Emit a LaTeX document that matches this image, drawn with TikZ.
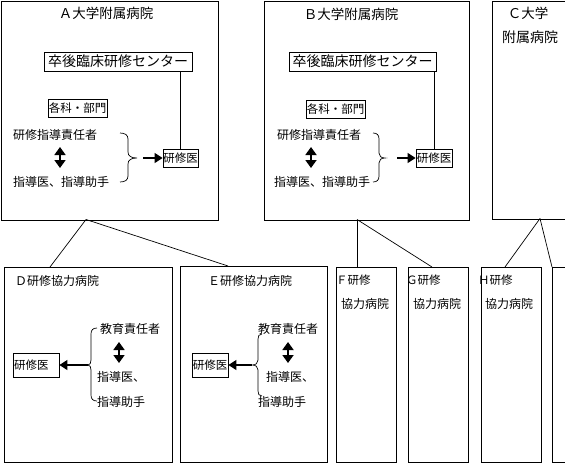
\documentclass[tikz,border=0pt]{standalone}
\usepackage{fontspec}
\setmainfont{Noto Sans CJK JP}
\usetikzlibrary{arrows.meta}
\begin{document}
\begin{tikzpicture}[x=1pt,y=-1pt,
  frame/.style={draw,line width=0.8pt,inner sep=0pt,anchor=north west},
  boxed/.style={draw,line width=0.8pt,inner sep=0pt},
  txt/.style={inner sep=0pt,anchor=west,font=\fontsize{12}{12}\selectfont},
  ttl/.style={inner sep=0pt,font=\fontsize{13.5}{13.5}\selectfont},
  conn/.style={line width=0.7pt},
  brc/.style={line width=0.7pt},
  arr/.style={line width=1.2pt,-{Triangle[length=8pt,width=10pt]}},
  dbl/.style={line width=1.8pt,{Triangle[length=8pt,width=11pt]}-{Triangle[length=8pt,width=11pt]}}]
\clip (0,0) rectangle (565,463);
\useasboundingbox (0,0) rectangle (565,463);

% ---------- frames ----------
\node[frame,minimum width=217pt,minimum height=219pt] (A) at (0.5,0.5) {};
\node[frame,minimum width=205pt,minimum height=219pt] (B) at (264,0.5) {};
\node[frame,minimum width=80pt,minimum height=218pt] (C) at (492,0.5) {};
\node[frame,minimum width=168pt,minimum height=195pt] (D) at (4,267) {};
\node[frame,minimum width=147pt,minimum height=196pt] (E) at (180,266) {};
\node[frame,minimum width=60pt,minimum height=195pt] (F) at (336,267) {};
\node[frame,minimum width=60pt,minimum height=195pt] (G) at (408,267) {};
\node[frame,minimum width=60pt,minimum height=195pt] (H) at (481,267) {};
\node[frame,minimum width=30pt,minimum height=195pt] (I) at (552,267) {};

% ---------- tree connectors ----------
\coordinate (Abot) at (86,219.5);
\coordinate (Dtop) at (50,267);
\coordinate (Etop) at (228,266);
\coordinate (Bbot) at (357,219.5);
\coordinate (Ftop) at (357,267);
\coordinate (Gtop) at (432,267);
\coordinate (Cbot) at (540,218.5);
\coordinate (Htop) at (505,267);
\coordinate (Itop) at (552,267);
\draw[conn] (Abot) -- (Dtop);
\draw[conn] (Abot) -- (Etop);
\draw[conn] (Bbot) -- (Ftop);
\draw[conn] (Bbot) -- (Gtop);
\draw[conn] (Cbot) -- (Htop);
\draw[conn] (Cbot) -- (Itop);

% ---------- A ----------
\node[ttl] (Atitle) at (106,13) {Ａ大学附属病院};
\node[boxed,minimum width=148pt,minimum height=19pt,font=\fontsize{14}{14}\selectfont] (Acen) at (118,61.5) {卒後臨床研修センター};
\node[boxed,minimum width=59pt,minimum height=18pt,font=\fontsize{11.5}{11.5}\selectfont] (Adept) at (77.5,108) {各科・部門};
\node[txt] (Alead) at (13,135) {研修指導責任者};
\node[txt] (Ainst) at (13,182) {指導医、指導助手};
\node[boxed,minimum width=35pt,minimum height=18pt,font=\fontsize{11.5}{11.5}\selectfont] (Ares) at (180.5,158) {研修医};
\draw[conn] (Ares.north) -- (Ares.north |- Acen.south);
\coordinate (Au) at (60,147);
\coordinate (Ad) at (60,168);
\draw[dbl] (Au) -- (Ad);
\draw[brc] (120,133) .. controls (125,133) and (128,135) .. (128,139) -- (128,152)
  .. controls (128,156) and (131,158) .. (137,158)
  .. controls (131,158) and (128,160) .. (128,164) -- (128,176)
  .. controls (128,180) and (125,182) .. (120,182);
\coordinate (Aarr) at (143,158);
\draw[arr] (Aarr) -- (Aarr -| Ares.west);

% ---------- B ----------
\node[ttl] (Btitle) at (351,14) {Ｂ大学附属病院};
\node[boxed,minimum width=147pt,minimum height=19pt,font=\fontsize{14}{14}\selectfont] (Bcen) at (362.5,61.5) {卒後臨床研修センター};
\node[boxed,minimum width=59pt,minimum height=18pt,font=\fontsize{11.5}{11.5}\selectfont] (Bdept) at (335.5,109) {各科・部門};
\node[txt] (Blead) at (277,135) {研修指導責任者};
\node[txt] (Binst) at (274,182) {指導医、指導助手};
\node[boxed,minimum width=36pt,minimum height=18pt,font=\fontsize{11.5}{11.5}\selectfont] (Bres) at (434,158) {研修医};
\draw[conn] (Bres.north) -- (Bres.north |- Bcen.south);
\coordinate (Bu) at (311,147);
\coordinate (Bd) at (311,168);
\draw[dbl] (Bu) -- (Bd);
\draw[brc] (373,133) .. controls (377,133) and (379,135) .. (379,139) -- (379,153)
  .. controls (379,156) and (381,158) .. (385,158)
  .. controls (381,158) and (379,160) .. (379,163) -- (379,176)
  .. controls (379,180) and (377,182) .. (373,182);
\coordinate (Barr) at (397,158);
\draw[arr] (Barr) -- (Barr -| Bres.west);

% ---------- C ----------
\node[ttl] (Ctitle1) at (528,13) {Ｃ大学};
\node[ttl,font=\fontsize{14}{14}\selectfont] (Ctitle2) at (530,37) {附属病院};

% ---------- D ----------
\node[txt] (Dtitle) at (15,281) {Ｄ研修協力病院};
\node[txt] (Dlead) at (100,329) {教育責任者};
\node[txt] (Dinst1) at (97,377) {指導医、};
\node[txt] (Dinst2) at (97,402) {指導助手};
\coordinate (Du) at (119,342);
\coordinate (Dd) at (119,363);
\draw[dbl] (Du) -- (Dd);
\draw[brc] (97,328) .. controls (93,328) and (91,330) .. (91,334) -- (91,360)
  .. controls (91,363) and (90,365) .. (88,365)
  .. controls (90,365) and (91,367) .. (91,370) -- (91,395)
  .. controls (91,399) and (93,401) .. (97,401);
\node[boxed,minimum height=24pt,text width=44pt,inner xsep=1pt,align=left,font=\fontsize{11.5}{11.5}\selectfont] (Dres) at (36,365) {研修医};
\coordinate (Darr) at (88,365);
\draw[arr] (Darr) -- (Darr -| Dres.east);

% ---------- E ----------
\node[txt] (Etitle) at (208,281) {Ｅ研修協力病院};
\node[txt] (Elead) at (258,329) {教育責任者};
\node[txt] (Einst1) at (266,377) {指導医、};
\node[txt] (Einst2) at (258,402) {指導助手};
\coordinate (Eu) at (288,342);
\coordinate (Ed) at (288,363);
\draw[dbl] (Eu) -- (Ed);
\draw[brc] (262,334) .. controls (259,334) and (258,336) .. (258,339) -- (258,360)
  .. controls (258,363) and (256,365) .. (252,365)
  .. controls (256,365) and (258,367) .. (258,370) -- (258,391)
  .. controls (258,394) and (259,396) .. (262,396);
\node[boxed,minimum width=36pt,minimum height=24pt,font=\fontsize{11.5}{11.5}\selectfont] (Eres) at (210,365) {研修医};
\coordinate (Earr) at (252,365);
\draw[arr] (Earr) -- (Earr -| Eres.east);

% ---------- F, G, H ----------
\node[txt,font=\fontsize{11.5}{11.5}\selectfont] (Ftitle1) at (336,280) {Ｆ研修};
\node[txt] (Ftitle2) at (341,304) {協力病院};
\node[txt,font=\fontsize{11.5}{11.5}\selectfont] (Gtitle1) at (406,280) {Ｇ研修};
\node[txt] (Gtitle2) at (413,304) {協力病院};
\node[txt,font=\fontsize{11.5}{11.5}\selectfont] (Htitle1) at (478,280) {Ｈ研修};
\node[txt] (Htitle2) at (485,304) {協力病院};
\end{tikzpicture}
\end{document}
